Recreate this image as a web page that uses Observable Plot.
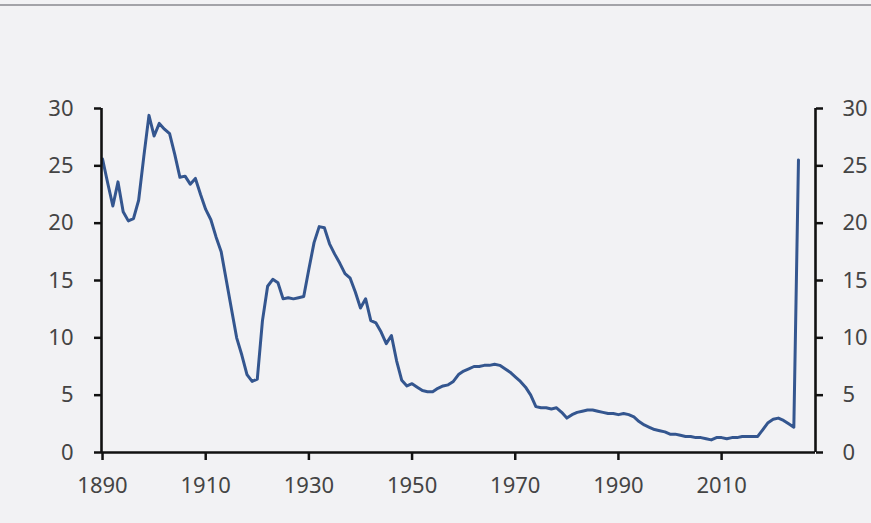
<!DOCTYPE html>
<html><head><meta charset="utf-8">
<script src="https://cdn.jsdelivr.net/npm/d3@7"></script>
<script src="https://cdn.jsdelivr.net/npm/@observablehq/plot@0.6"></script>
<style>
html,body{margin:0;padding:0;background:#f2f2f4;width:871px;height:523px;overflow:hidden;}
#topline{position:absolute;left:0;top:4px;width:871px;height:2px;background:#a3a3a8;}
#chart{position:absolute;left:0;top:0;}
</style></head><body><div id="topline"></div><div id="chart"></div>
<script>
const years = [1890,1891,1892,1893,1894,1895,1896,1897,1898,1899,
1900,1901,1902,1903,1904,1905,1906,1907,1908,1909,
1910,1911,1912,1913,1914,1915,1916,1917,1918,1919,
1920,1921,1922,1923,1924,1925,1926,1927,1928,1929,
1930,1931,1932,1933,1934,1935,1936,1937,1938,1939,
1940,1941,1942,1943,1944,1945,1946,1947,1948,1949,
1950,1951,1952,1953,1954,1955,1956,1957,1958,1959,
1960,1961,1962,1963,1964,1965,1966,1967,1968,1969,
1970,1971,1972,1973,1974,1975,1976,1977,1978,1979,
1980,1981,1982,1983,1984,1985,1986,1987,1988,1989,
1990,1991,1992,1993,1994,1995,1996,1997,1998,1999,
2000,2001,2002,2003,2004,2005,2006,2007,2008,2009,
2010,2011,2012,2013,2014,2015,2016,2017,2018,2019,
2020,2021,2022,2023,2024,2024.9];
const values = [25.6,23.5,21.5,23.6,21.0,20.2,20.4,22.0,25.8,29.4,
27.6,28.7,28.2,27.8,26.0,24.0,24.1,23.4,23.9,22.5,
21.2,20.3,18.8,17.5,15.0,12.5,10.0,8.5,6.8,6.2,
6.4,11.5,14.5,15.1,14.8,13.4,13.5,13.4,13.5,13.6,
16.0,18.3,19.7,19.6,18.2,17.3,16.5,15.6,15.2,14.0,
12.6,13.4,11.5,11.3,10.5,9.5,10.2,8.0,6.3,5.8,
6.0,5.7,5.4,5.3,5.3,5.6,5.8,5.9,6.2,6.8,
7.1,7.3,7.5,7.5,7.6,7.6,7.7,7.6,7.3,7.0,
6.6,6.2,5.7,5.0,4.0,3.9,3.9,3.8,3.9,3.5,
3.0,3.3,3.5,3.6,3.7,3.7,3.6,3.5,3.4,3.4,
3.3,3.4,3.3,3.1,2.7,2.4,2.2,2.0,1.9,1.8,
1.6,1.6,1.5,1.4,1.4,1.3,1.3,1.2,1.1,1.3,
1.3,1.2,1.3,1.3,1.4,1.4,1.4,1.4,2.0,2.6,
2.9,3.0,2.8,2.5,2.2,25.5];
const xTicks = [1890,1910,1930,1950,1970,1990,2010];
const yTicks = [0,5,10,15,20,25,30];
const xDomain = [1889.8, 2028.2];
const yDomain = [0, 30];

const data = years.map((y, i) => ({year: y, value: values[i]}));

const axisColor = "#111";
const textColor = "#444";

const chart = Plot.plot({
  width: 871, height: 523,
  marginLeft: 101, marginRight: 56, marginTop: 108, marginBottom: 71,
  style: {background: "transparent", fontFamily: "'Noto Sans', sans-serif", fontSize: "22px", overflow: "visible"},
  x: {domain: xDomain, label: null},
  y: {domain: yDomain, label: null},
  marks: [
    Plot.line(data, {x: "year", y: "value", stroke: "#34568f", strokeWidth: 3, strokeLinejoin: "round", strokeLinecap: "round"}),
    Plot.ruleX(xDomain, {stroke: axisColor, strokeWidth: 2.6}),
    Plot.ruleY([0], {stroke: axisColor, strokeWidth: 2.6}),
    Plot.axisX({ticks: xTicks, tickSize: 8, tickFormat: () => "", color: axisColor, strokeWidth: 2.5}),
    Plot.axisX({ticks: xTicks, tickSize: 0, tickPadding: 25, tickFormat: d => String(d), color: textColor}),
    Plot.axisY({anchor: "left", ticks: yTicks, tickSize: 7, tickFormat: () => "", color: axisColor, strokeWidth: 2.5}),
    Plot.axisY({anchor: "left", ticks: yTicks, tickSize: 0, tickPadding: 28, tickFormat: d => String(d), color: textColor}),
    Plot.axisY({anchor: "right", ticks: yTicks, tickSize: 7, tickFormat: () => "", color: axisColor, strokeWidth: 2.5}),
    Plot.axisY({anchor: "right", ticks: yTicks, tickSize: 0, tickPadding: 27, tickFormat: d => String(d), color: textColor})
  ]
});
document.getElementById("chart").appendChild(chart);
</script>
</body></html>
